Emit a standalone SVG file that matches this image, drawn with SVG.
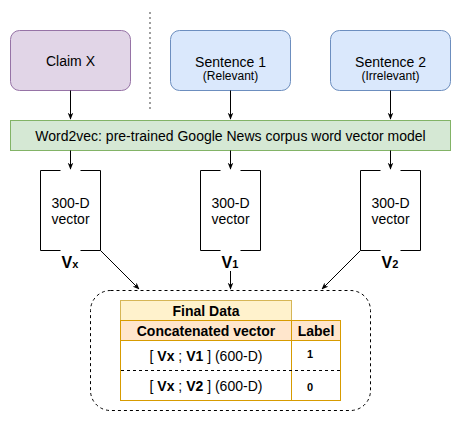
<svg xmlns="http://www.w3.org/2000/svg" width="461" height="421" viewBox="0 0 461 421">
<defs>
<marker id="ah" viewBox="0 0 10 10" refX="9" refY="5" markerWidth="7" markerHeight="7" orient="auto" markerUnits="userSpaceOnUse"><path d="M0,1 L10,5 L0,9 L3,5 Z" fill="#000"/></marker>
<style>
text{font-family:"Liberation Sans",Arial,Helvetica,sans-serif;fill:#000;text-anchor:middle}
.t14{font-size:14px}
.t12{font-size:12px}
.b{font-weight:bold}
.br{fill:none;stroke:#000;stroke-width:1}
.c{stroke:#000;stroke-width:1;fill:none}
</style>
</defs>
<rect width="461" height="421" fill="#fff"/>
<line x1="150" y1="12" x2="150" y2="110" stroke="#808080" stroke-width="1.5" stroke-dasharray="2,3"/>
<g id="claimX">
<rect x="10.5" y="30.5" width="120" height="60" rx="9" fill="#e1d5e7" stroke="#9673a6"/>
<text class="t14" x="70.5" y="66">Claim X</text>
</g>
<g id="sentence1">
<rect x="170.5" y="30.5" width="120" height="60" rx="9" fill="#dae8fc" stroke="#6c8ebf"/>
<text class="t14" x="230.5" y="67">Sentence 1</text>
<text class="t12" x="230.5" y="80">(Relevant)</text>
</g>
<g id="sentence2">
<rect x="330.5" y="30.5" width="120" height="60" rx="9" fill="#dae8fc" stroke="#6c8ebf"/>
<text class="t14" x="390.5" y="67">Sentence 2</text>
<text class="t12" x="390.5" y="80">(Irrelevant)</text>
</g>
<g id="word2vec">
<rect x="10.5" y="120.5" width="440" height="30" fill="#d5e8d4" stroke="#82b366"/>
<text class="t14" x="230.5" y="141">Word2vec: pre-trained Google News corpus word vector model</text>
</g>
<g id="vx">
<path class="br" d="M60.5,170.5 H40.5 V250.5 H60.5 M80.5,170.5 H100.5 V250.5 H80.5"/>
<text class="t14" x="70.5" y="208">300-D</text>
<text class="t14" x="70.5" y="224">vector</text>
<text class="b" x="70" y="268" style="font-size:16px">V<tspan style="font-size:11px">x</tspan></text>
</g>
<g id="v1">
<path class="br" d="M220.5,170.5 H200.5 V250.5 H220.5 M240.5,170.5 H260.5 V250.5 H240.5"/>
<text class="t14" x="230.5" y="208">300-D</text>
<text class="t14" x="230.5" y="224">vector</text>
<text class="b" x="230" y="268" style="font-size:16px">V<tspan style="font-size:11px">1</tspan></text>
</g>
<g id="v2">
<path class="br" d="M380.5,170.5 H360.5 V250.5 H380.5 M400.5,170.5 H420.5 V250.5 H400.5"/>
<text class="t14" x="390.5" y="208">300-D</text>
<text class="t14" x="390.5" y="224">vector</text>
<text class="b" x="390" y="268" style="font-size:16px">V<tspan style="font-size:11px">2</tspan></text>
</g>
<g id="finalData">
<rect x="90.5" y="290.5" width="280" height="120" rx="20" fill="none" stroke="#000" stroke-dasharray="3,3"/>
<rect x="120.5" y="300.5" width="171" height="20" fill="#fff2cc" stroke="#d6b656"/>
<text class="t14 b" x="206" y="316">Final Data</text>
<rect x="120.5" y="320.5" width="171" height="20" fill="#ffe6cc" stroke="#d79b00"/>
<rect x="291.5" y="320.5" width="49" height="20" fill="#ffe6cc" stroke="#d79b00"/>
<text class="t14 b" x="206" y="336">Concatenated vector</text>
<text class="t14 b" x="316" y="336">Label</text>
<rect x="120.5" y="340.5" width="220" height="60" fill="#fff" stroke="#d79b00"/>
<line x1="291.5" y1="340.5" x2="291.5" y2="400.5" stroke="#d79b00"/>
<line x1="121" y1="370.5" x2="340" y2="370.5" stroke="#000" stroke-dasharray="3,3"/>
<text class="t14" x="206" y="361">[ <tspan class="b">Vx</tspan> ; <tspan class="b">V1</tspan> ] (600-D)</text>
<text class="t14" x="206" y="391">[ <tspan class="b">Vx</tspan> ; <tspan class="b">V2</tspan> ] (600-D)</text>
<text class="b" x="310" y="358" style="font-size:11px">1</text>
<text class="b" x="310" y="391" style="font-size:11px">0</text>
</g>
<g id="connectors">
<line class="c" x1="70.5" y1="90.5" x2="70.5" y2="119" marker-end="url(#ah)"/>
<line class="c" x1="230.5" y1="90.5" x2="230.5" y2="119" marker-end="url(#ah)"/>
<line class="c" x1="390.5" y1="90.5" x2="390.5" y2="119" marker-end="url(#ah)"/>
<line class="c" x1="70.5" y1="150.5" x2="70.5" y2="169" marker-end="url(#ah)"/>
<line class="c" x1="230.5" y1="150.5" x2="230.5" y2="169" marker-end="url(#ah)"/>
<line class="c" x1="390.5" y1="150.5" x2="390.5" y2="169" marker-end="url(#ah)"/>
<line class="c" x1="100.5" y1="250.5" x2="139" y2="289" marker-end="url(#ah)" stroke-width="0.8"/>
<line class="c" x1="230.5" y1="271" x2="230.5" y2="289" marker-end="url(#ah)"/>
<line class="c" x1="360.5" y1="250.5" x2="322" y2="289" marker-end="url(#ah)" stroke-width="0.8"/>
</g>
</svg>
